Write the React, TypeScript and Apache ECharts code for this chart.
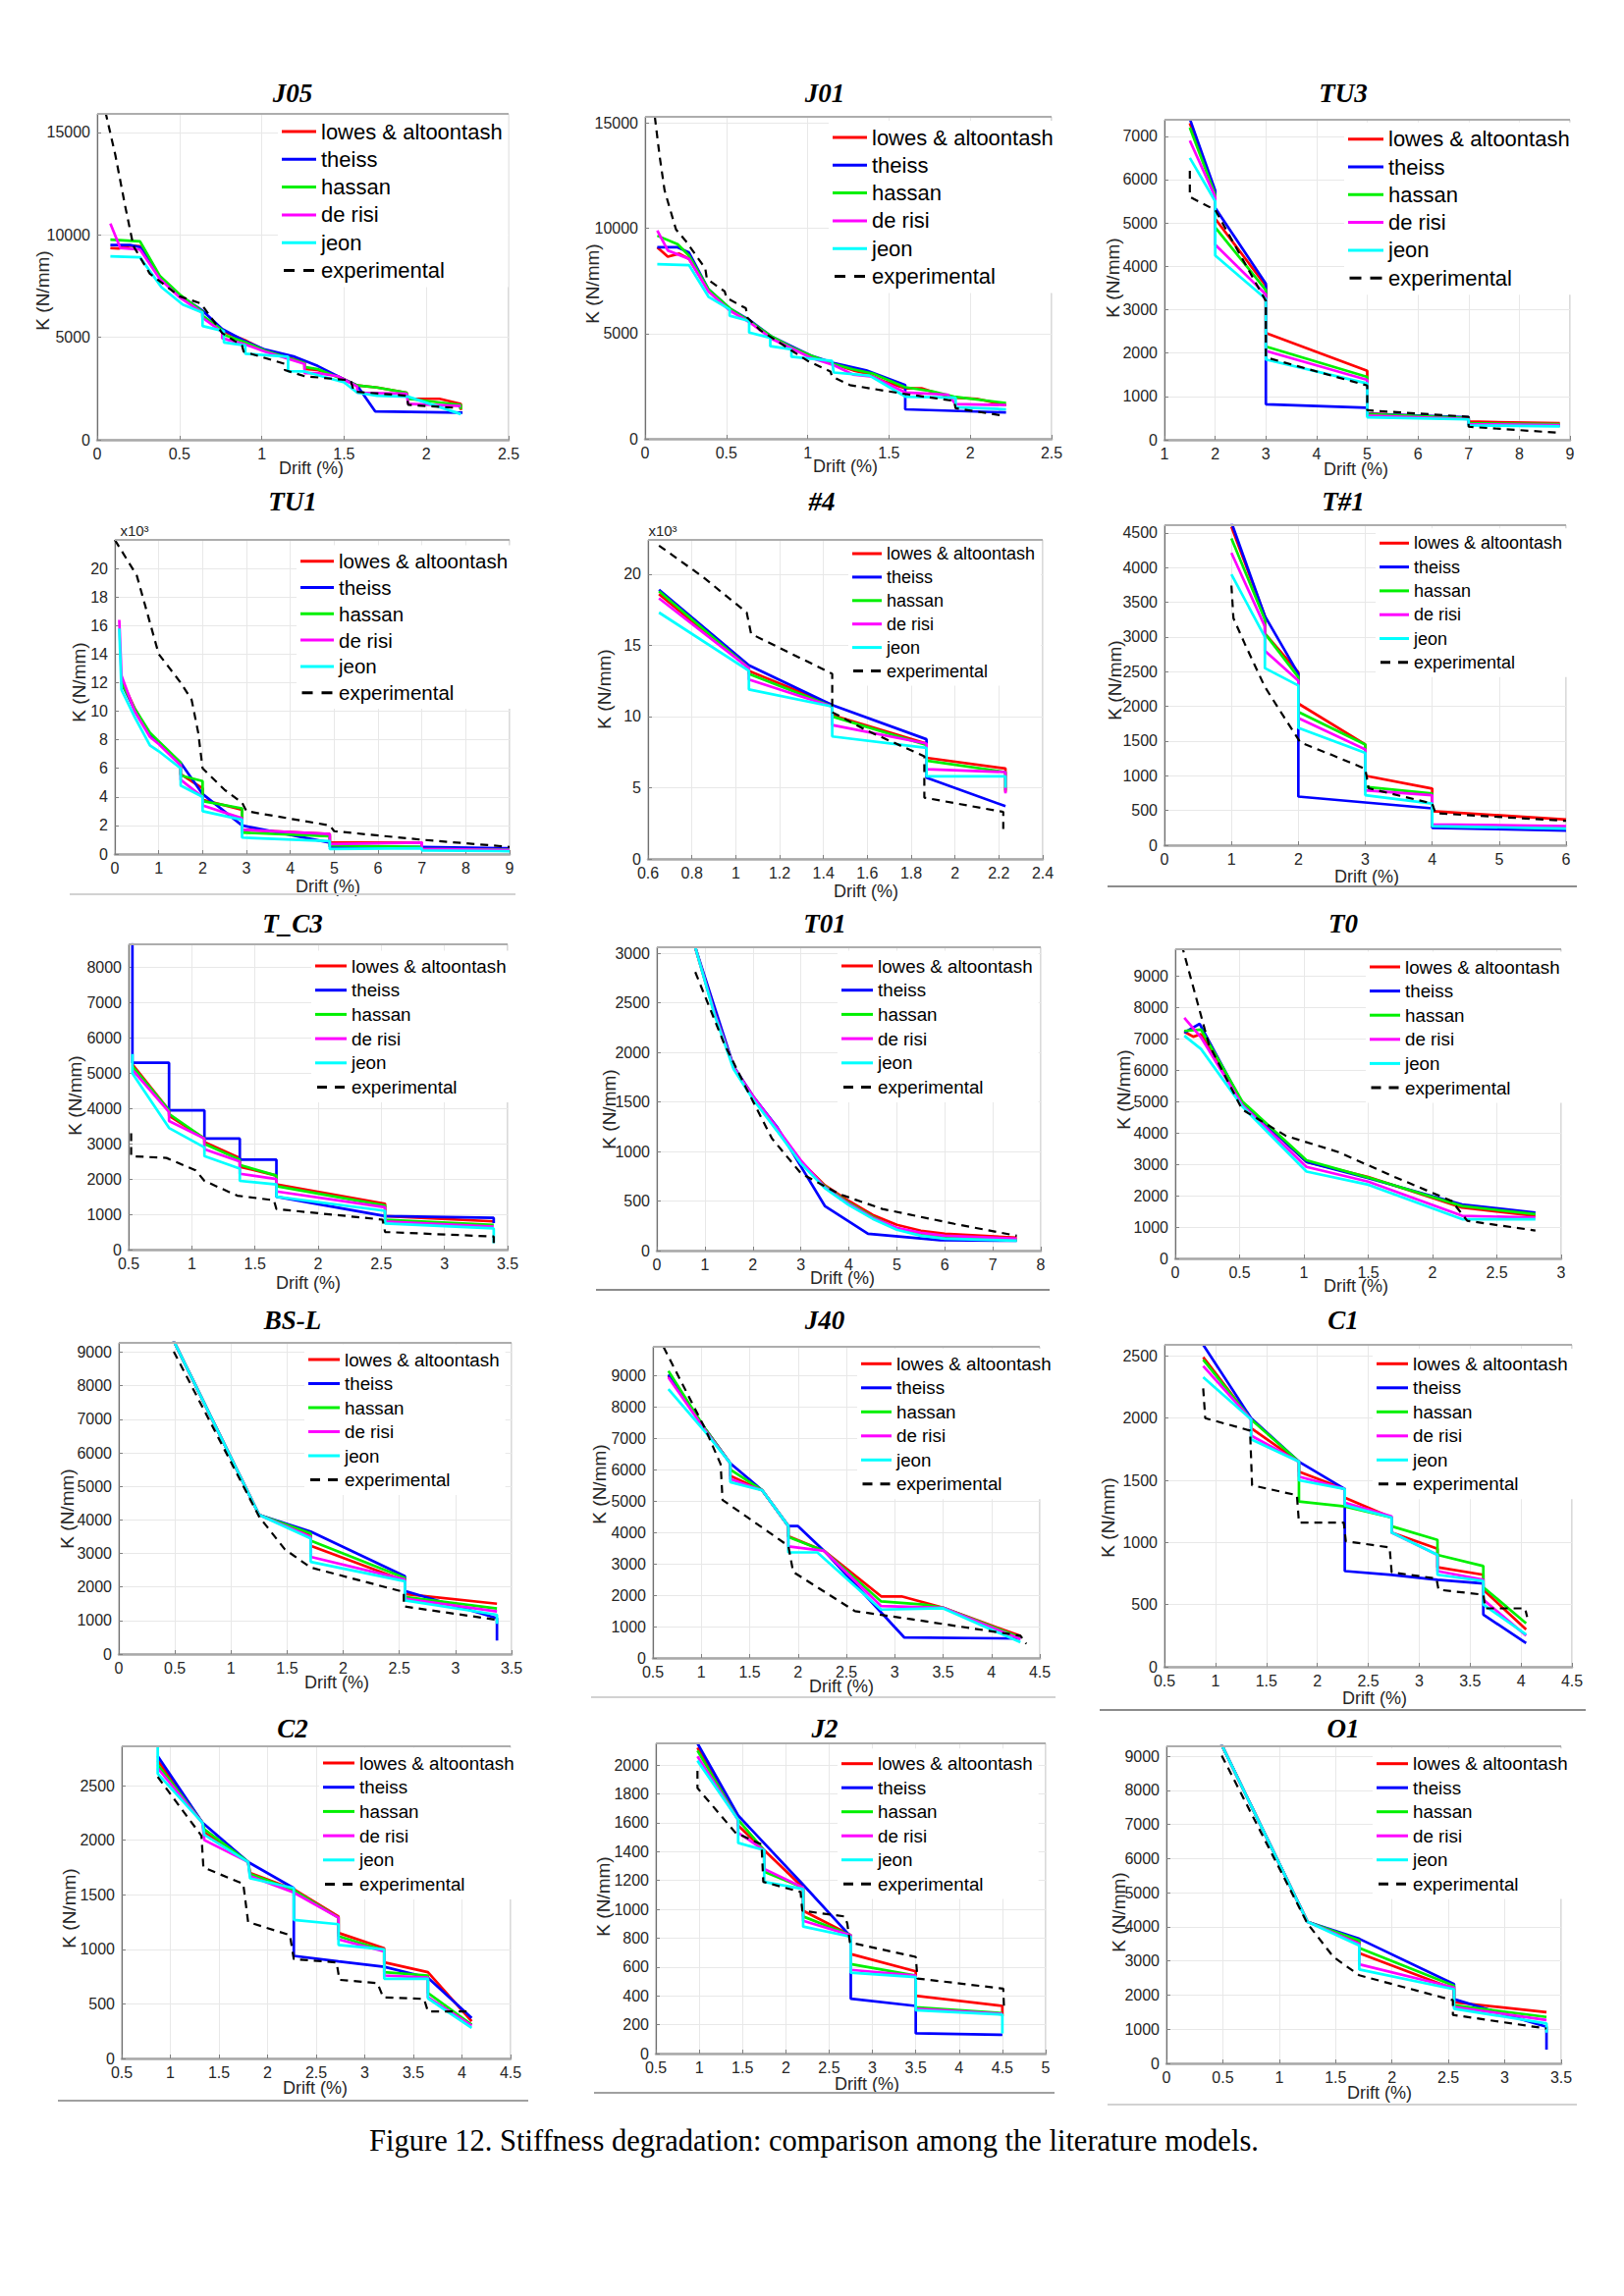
import React, { useEffect, useRef } from "react";
import * as echarts from "echarts";

// ---------- series names & colours ----------
const SERIES_NAMES = ["lowes & altoontash", "theiss", "hassan", "de risi", "jeon", "experimental"];
const SERIES_COLORS = ["#ff0000", "#0000ff", "#00f000", "#ff00ff", "#00ffff", "#000000"];

// ---------- data: [drift %, K] ----------
const j05Lowes = [[0.08,9350],[0.13,9330],[0.2,9470],[0.26,9440],[0.38,7900],[0.5,7000],[0.64,6250],[0.64,6000],[0.76,5300],[0.9,4850],[1.02,4350],[1.14,4050],[1.26,3800],[1.26,3450],[1.34,3400],[1.46,3100],[1.58,2650],[1.7,2550],[1.88,2300],[1.89,2000],[2.08,2000],[2.21,1750],[2.21,1450]];
const j05Theiss = [[0.08,9500],[0.2,9500],[0.26,9400],[0.38,7950],[0.5,7050],[0.64,6300],[0.76,5400],[0.9,4800],[1.02,4400],[1.2,4050],[1.34,3600],[1.5,2950],[1.58,2650],[1.69,1380],[2.22,1320]];
const j05Hassan = [[0.08,9760],[0.26,9680],[0.38,8000],[0.5,7100],[0.64,6250],[0.64,6050],[0.76,5350],[0.76,5150],[0.9,4750],[1.02,4350],[1.14,4050],[1.26,3750],[1.26,3550],[1.34,3450],[1.46,3050],[1.58,2650],[1.7,2550],[1.88,2300],[1.89,2000],[2.21,1700],[2.21,1500]];
const j05DeRisi = [[0.08,10550],[0.14,9360],[0.26,9280],[0.38,7850],[0.5,6950],[0.64,6200],[0.64,5950],[0.76,5250],[0.76,4950],[0.9,4650],[1.02,4300],[1.14,4000],[1.26,3700],[1.26,3250],[1.34,3250],[1.46,3100],[1.58,2600],[1.58,2300],[1.88,2250],[1.89,1750],[2.21,1650]];
const j05Jeon = [[0.08,8950],[0.26,8900],[0.39,7450],[0.52,6600],[0.64,6200],[0.64,5550],[0.77,5300],[0.77,4750],[0.9,4600],[0.9,4200],[1.16,4050],[1.16,3350],[1.26,3330],[1.5,2800],[1.58,2300],[1.7,2150],[1.89,2100],[2.21,1250]];
const j05Exp = [[0.05,16000],[0.11,13900],[0.17,11400],[0.22,9450],[0.32,8100],[0.5,7000],[0.63,6650],[0.76,5200],[0.88,4600],[0.89,4300],[1.14,3700],[1.14,3400],[1.26,3100],[1.54,2900],[1.56,2350],[1.88,2150],[1.89,1700],[2.2,1550]];

const j01Lowes = [[0.075,9100],[0.14,8650],[0.21,8800],[0.27,8550],[0.39,7050],[0.52,6150],[0.64,5600],[0.78,4800],[0.9,4350],[1.02,3900],[1.16,3550],[1.28,3250],[1.36,3100],[1.48,2700],[1.6,2400],[1.7,2400],[1.8,2150],[1.9,1950],[2.04,1900],[2.22,1600]];
const j01Theiss = [[0.075,9100],[0.2,9100],[0.27,8850],[0.39,7100],[0.52,6200],[0.64,5650],[0.78,4850],[0.9,4400],[1.02,3950],[1.16,3600],[1.36,3250],[1.48,2900],[1.6,2550],[1.6,1400],[2.22,1250]];
const j01Hassan = [[0.075,9650],[0.2,9250],[0.27,8700],[0.39,7100],[0.52,6200],[0.64,5600],[0.78,4850],[0.9,4350],[1.02,3950],[1.16,3550],[1.28,3300],[1.4,3100],[1.6,2450],[1.77,2250],[1.9,2000],[2.22,1700]];
const j01DeRisi = [[0.075,9900],[0.14,8950],[0.27,8550],[0.39,7000],[0.52,6100],[0.64,5550],[0.78,4750],[0.9,4300],[1.02,3850],[1.16,3500],[1.28,3050],[1.4,2950],[1.6,2200],[1.86,2100],[1.91,1650],[2.22,1600]];
const j01Jeon = [[0.075,8300],[0.27,8250],[0.39,6750],[0.52,6150],[0.52,5850],[0.64,5600],[0.64,5050],[0.77,4800],[0.77,4400],[0.9,4250],[0.9,3900],[1.15,3700],[1.16,3150],[1.38,3000],[1.58,2100],[1.6,2000],[1.91,1950],[1.91,1500],[2.22,1400]];
const j01Exp = [[0.06,15300],[0.09,13400],[0.12,11800],[0.19,9950],[0.25,9400],[0.37,8100],[0.38,7600],[0.49,7000],[0.5,6700],[0.62,6200],[0.63,5750],[0.71,5150],[0.9,4200],[1.0,3700],[1.14,3200],[1.15,2950],[1.26,2550],[1.58,2150],[1.9,1800],[1.91,1450],[2.2,1100]];

const tu3Lowes = [[1.5,7300],[2,5700],[2,5100],[3,3550],[3,2460],[5,1590],[5,610],[7,490],[7,420],[8.8,380]];
const tu3Theiss = [[1.5,7400],[2,5750],[2,5350],[3,3600],[3,820],[5,740],[5,600],[7,520],[7,350],[8.8,330]];
const tu3Hassan = [[1.5,7200],[2,5650],[2,4900],[3,3450],[3,2150],[5,1450],[5,590],[7,500],[7,380],[8.8,360]];
const tu3DeRisi = [[1.5,6900],[2,5600],[2,4500],[3,3350],[3,2050],[5,1380],[5,560],[7,480],[7,360],[8.8,340]];
const tu3Jeon = [[1.5,6500],[2,5500],[2,4250],[3,3250],[3,1850],[5,1300],[5,520],[7,470],[7,330],[8.8,310]];
const tu3Exp = [[1.5,6200],[1.5,5600],[2,5300],[3,3200],[3,1900],[5,1250],[5,680],[7,530],[7,300],[8.8,160]];

// TU1 and #4 are in thousands of N/mm (x10^3)
const tu1Lowes = [[0.15,12.2],[0.45,10.2],[0.8,8.4],[1,7.8],[1.5,6.3],[1.5,5.6],[2,4.6],[2,3.8],[2.9,3.1],[2.9,1.7],[4.9,1.4],[4.9,0.8],[7,0.8],[7,0.4],[9,0.35]];
const tu1Theiss = [[0.15,12],[0.45,10.1],[0.8,8.4],[1,7.8],[1.5,6.4],[2,4.2],[2.9,2.0],[4.9,0.8],[4.9,0.5],[7,0.5],[9,0.4]];
const tu1Hassan = [[0.15,12],[0.45,10.2],[0.8,8.5],[1,7.9],[1.5,6.4],[1.5,5.5],[2,5.1],[2,3.7],[2.9,3.2],[2.9,1.5],[4.9,1.25],[4.9,0.6],[7,0.5],[7,0.35],[9,0.3]];
const tu1DeRisi = [[0.1,16.4],[0.15,12.5],[0.45,10],[0.8,8.2],[1,7.7],[1.5,6.2],[1.5,5.2],[2,4.0],[2,3.4],[2.9,2.5],[2.9,1.7],[4.9,1.4],[4.9,0.7],[7,0.8],[7,0.35],[9,0.28]];
const tu1Jeon = [[0.1,15.8],[0.15,11.5],[0.45,9.6],[0.8,7.6],[1,7.2],[1.5,6.0],[1.5,4.8],[2,4.0],[2,3.0],[2.9,2.4],[2.9,1.15],[4.9,0.9],[4.9,0.35],[7,0.4],[7,0.25],[9,0.2]];
const tu1Exp = [[0,22],[0.5,19.5],[1,14],[1.5,12],[1.75,10.8],[1.9,8.5],[2,6],[2.5,4.5],[2.9,3.6],[3,3],[4.9,2],[5,1.6],[7,1],[9,0.5]];

const n4Lowes = [[0.65,18.6],[1.06,13.4],[1.06,13.2],[1.44,10.8],[1.44,10.1],[1.87,8.1],[1.87,7.1],[2.23,6.35],[2.23,4.7]];
const n4Theiss = [[0.65,18.9],[1.06,13.6],[1.44,10.8],[1.87,8.4],[1.87,5.7],[2.23,3.7]];
const n4Hassan = [[0.65,18.8],[1.06,13.4],[1.06,13.0],[1.44,10.7],[1.44,10],[1.87,8],[1.87,6.9],[2.23,6.1],[2.23,4.8]];
const n4DeRisi = [[0.65,18.3],[1.06,13.4],[1.06,12.6],[1.44,10.7],[1.44,9.4],[1.87,8.1],[1.87,6.3],[2.23,6.1],[2.23,4.6]];
const n4Jeon = [[0.65,17.3],[1.06,13.2],[1.06,11.9],[1.44,10.7],[1.44,8.6],[1.87,7.8],[1.87,5.8],[2.23,5.8],[2.23,5.0]];
const n4Exp = [[0.65,22],[0.85,19.8],[1.05,17.3],[1.07,15.8],[1.44,13],[1.44,10.3],[1.6,9.0],[1.86,7.2],[1.86,4.3],[2.22,3.3],[2.22,2.1]];

const t1Lowes = [[1,4590],[1.5,3300],[1.5,3050],[2,2490],[2,2040],[3,1450],[3,1000],[4,815],[4,490],[6,370]];
const t1Theiss = [[1,4650],[1.5,3300],[2,2470],[2,700],[4,530],[4,250],[6,210]];
const t1Hassan = [[1,4420],[1.5,3250],[1.5,3050],[2,2420],[2,1920],[3,1450],[3,840],[4,745],[4,275],[6,250]];
const t1DeRisi = [[1,4210],[1.5,3150],[1.5,2800],[2,2370],[2,1830],[3,1380],[3,790],[4,720],[4,300],[6,275]];
const t1Jeon = [[1,3900],[1.5,3000],[1.5,2550],[2,2300],[2,1690],[3,1330],[3,720],[4,600],[4,275],[6,240]];
const t1Exp = [[1,3740],[1.03,3270],[1.2,2900],[1.5,2280],[1.75,1900],[2.03,1480],[2.5,1300],[3,1100],[3.05,820],[4,600],[4.05,460],[6,350]];

const tc3Lowes = [[0.53,5250],[0.82,3950],[0.82,3800],[1.1,3150],[1.1,3050],[1.38,2600],[1.38,2350],[1.67,2100],[1.67,1850],[2.53,1300],[2.53,950],[3.39,800]];
const tc3Theiss = [[0.53,8700],[0.53,5300],[0.82,5300],[0.82,3950],[1.1,3950],[1.1,3150],[1.38,3150],[1.38,2550],[1.67,2550],[1.67,1500],[2.53,950],[3.39,900],[3.39,750]];
const tc3Hassan = [[0.53,5200],[0.82,3950],[0.82,3850],[1.1,3150],[1.1,3000],[1.38,2550],[1.38,2400],[1.67,2100],[1.67,1800],[2.53,1250],[2.53,850],[3.39,700]];
const tc3DeRisi = [[0.53,5100],[0.82,3900],[0.82,3650],[1.1,3150],[1.1,2850],[1.38,2500],[1.38,2150],[1.67,2000],[1.67,1650],[2.53,1200],[2.53,800],[3.39,650]];
const tc3Jeon = [[0.53,5550],[0.53,5000],[0.82,3450],[1.1,2900],[1.1,2650],[1.38,2300],[1.38,1950],[1.67,1850],[1.67,1500],[2.53,1100],[2.53,740],[3.39,600],[3.39,180]];
const tc3Exp = [[0.52,3300],[0.52,2650],[0.8,2600],[1.03,2250],[1.1,1950],[1.36,1530],[1.65,1400],[1.67,1150],[2.51,850],[2.53,500],[3.39,370],[3.39,180]];

const t01Lowes = [[0.8,3060],[1.2,2400],[1.6,1850],[2,1560],[2.5,1230],[3,900],[3.5,660],[4,500],[4.5,360],[5,260],[5.5,200],[6,170],[7.5,130]];
const t01Theiss = [[0.8,3060],[1.6,1860],[2,1560],[2.5,1250],[3,850],[3.5,450],[4.4,170],[5.9,105],[7.5,100]];
const t01Hassan = [[0.8,3060],[1.2,2400],[1.6,1850],[2,1550],[2.5,1220],[3,890],[3.5,650],[4,480],[4.5,340],[5,220],[5.5,160],[6,140],[7.5,110]];
const t01DeRisi = [[0.8,3060],[1.2,2400],[1.6,1850],[2,1560],[2.5,1240],[3,910],[3.5,640],[4,470],[4.5,330],[5,230],[5.5,180],[6,150],[7.5,120]];
const t01Jeon = [[0.8,3060],[1.2,2380],[1.6,1830],[2,1530],[2.5,1210],[3,880],[3.5,630],[4,460],[4.5,320],[5,210],[5.5,150],[6,120],[7.5,100]];
const t01Exp = [[0.8,2810],[1.4,2090],[1.85,1650],[2.4,1130],[3,780],[3.8,570],[4.7,420],[6.2,270],[7.5,150]];

const t0Lowes = [[0.07,7230],[0.14,7070],[0.2,7150],[0.52,4980],[1.02,3080],[1.5,2600],[2.23,1620],[2.8,1360]];
const t0Theiss = [[0.07,7200],[0.19,7480],[0.52,4960],[1.02,3080],[1.5,2560],[2.23,1720],[2.8,1460]];
const t0Hassan = [[0.07,7255],[0.2,7300],[0.52,5010],[1.02,3130],[1.5,2580],[2.23,1670],[2.8,1410]];
const t0DeRisi = [[0.07,7670],[0.2,7050],[0.52,4900],[1.02,2920],[1.5,2450],[2.23,1360],[2.8,1300]];
const t0Jeon = [[0.07,7100],[0.2,6680],[0.52,4850],[1.02,2770],[1.5,2350],[2.23,1250],[2.8,1250]];
const t0Exp = [[0.05,10000],[0.26,6840],[0.52,4750],[0.86,3910],[1.27,3390],[1.67,2660],[2.15,1830],[2.27,1200],[2.8,890]];

const bslLowes = [[0.48,9400],[1.25,4150],[1.71,3550],[1.71,3230],[2.55,2180],[2.55,1790],[3.37,1500]];
const bslTheiss = [[0.48,9400],[1.25,4150],[1.71,3650],[2.55,2320],[2.55,1880],[3.37,1070],[3.37,400]];
const bslHassan = [[0.48,9400],[1.25,4150],[1.71,3600],[1.71,3380],[2.55,2270],[2.55,1700],[3.37,1360]];
const bslDeRisi = [[0.48,9400],[1.25,4150],[1.71,3500],[1.71,2900],[2.55,2220],[2.55,1650],[3.37,1270]];
const bslJeon = [[0.48,9400],[1.25,4150],[1.71,3450],[1.71,2750],[2.55,2170],[2.55,1600],[3.37,1170],[3.37,900]];
const bslExp = [[0.49,9020],[1.25,4100],[1.48,3120],[1.71,2580],[2.54,1850],[2.54,1420],[3.37,1020]];

const j40Lowes = [[0.66,8980],[1.04,7300],[1.3,6200],[1.3,5800],[1.63,5340],[1.9,4200],[1.9,3880],[2.27,3410],[2.86,1960],[3.07,1960],[3.5,1600],[4.3,700]];
const j40Theiss = [[0.66,9030],[1.04,7300],[1.3,6200],[1.63,5340],[1.9,4200],[2.0,4200],[2.27,3410],[3.1,650],[4.3,620]];
const j40Hassan = [[0.66,9140],[1.04,7300],[1.3,6200],[1.3,6000],[1.63,5340],[1.9,4200],[1.9,3850],[2.27,3410],[2.86,1800],[3.3,1700],[3.5,1600],[4.3,650]];
const j40DeRisi = [[0.66,8930],[1.04,7250],[1.3,6200],[1.3,5700],[1.63,5340],[1.9,4200],[1.9,3550],[2.27,3410],[2.86,1650],[3.5,1600],[4.3,600]];
const j40Jeon = [[0.66,8560],[1.04,7200],[1.3,6200],[1.3,5600],[1.63,5340],[1.9,4200],[1.9,3360],[2.2,3360],[2.86,1540],[3.5,1580],[4.3,500]];
const j40Exp = [[0.61,9900],[1.04,7300],[1.2,6170],[1.22,5030],[1.9,3570],[1.95,2740],[2.59,1490],[3.18,1230],[4.3,710],[4.36,450]];

const c1Lowes = [[0.88,2490],[1.35,1990],[1.35,1920],[1.82,1650],[1.82,1570],[2.27,1430],[2.27,1360],[2.73,1200],[2.73,1080],[3.18,950],[3.18,800],[3.63,740],[3.63,620],[4.05,300]];
const c1Theiss = [[0.88,2590],[1.35,2000],[1.82,1650],[2.27,1430],[2.27,770],[2.73,740],[3.18,700],[3.63,670],[3.63,420],[4.05,190]];
const c1Hassan = [[0.88,2470],[1.35,1990],[1.82,1650],[1.82,1330],[2.27,1290],[2.73,1200],[2.73,1130],[3.18,1020],[3.18,900],[3.63,810],[3.63,640],[4.05,350]];
const c1DeRisi = [[0.88,2420],[1.35,1990],[1.35,1860],[1.82,1650],[1.82,1530],[2.27,1430],[2.27,1320],[2.73,1210],[2.73,1080],[3.18,900],[3.18,770],[3.63,700],[3.63,540],[4.05,250]];
const c1Jeon = [[0.88,2330],[1.35,1990],[1.35,1830],[1.82,1650],[1.82,1500],[2.27,1430],[2.27,1300],[2.73,1200],[2.73,1080],[3.18,900],[3.18,740],[3.63,690],[3.63,500],[4.05,260]];
const c1Exp = [[0.88,2240],[0.9,2000],[1.34,1900],[1.36,1460],[1.8,1380],[1.82,1160],[2.26,1160],[2.28,1010],[2.71,960],[2.73,760],[3.17,710],[3.19,620],[3.63,580],[3.65,470],[4.04,470],[4.06,400]];

const c2Lowes = [[0.87,2730],[1.33,2160],[1.35,2070],[1.8,1800],[1.82,1700],[2.27,1550],[2.73,1300],[2.73,1150],[3.2,1010],[3.2,880],[3.65,790],[4.1,340]];
const c2Theiss = [[0.87,2770],[1.33,2160],[1.8,1800],[2.27,1560],[2.27,940],[2.73,890],[3.2,840],[3.65,740],[4.1,370]];
const c2Hassan = [[0.87,2690],[1.33,2160],[1.35,2100],[1.8,1800],[1.82,1690],[2.27,1540],[2.73,1290],[2.73,1120],[3.2,990],[3.2,790],[3.65,760],[3.65,600],[4.1,310]];
const c2DeRisi = [[0.87,2660],[1.33,2160],[1.35,2000],[1.8,1800],[1.82,1670],[2.27,1520],[2.73,1290],[2.73,1090],[3.2,980],[3.2,760],[3.65,740],[3.65,560],[4.1,300]];
const c2Jeon = [[0.87,2860],[0.87,2610],[1.33,2160],[1.35,2050],[1.8,1800],[1.82,1650],[2.27,1560],[2.27,1270],[2.73,1230],[2.73,1040],[3.2,1000],[3.2,730],[3.65,730],[3.65,550],[4.1,280]];
const c2Exp = [[0.87,2580],[1.32,2040],[1.34,1750],[1.75,1600],[1.8,1250],[2.23,1130],[2.27,910],[2.71,880],[2.74,720],[3.13,690],[3.19,560],[3.61,545],[3.65,430],[4.09,430]];

const j2Lowes = [[0.98,2120],[1.45,1620],[1.45,1580],[1.75,1410],[2.2,1150],[2.2,990],[2.75,820],[2.75,690],[3.5,570],[3.5,400],[4.5,330],[4.5,260]];
const j2Theiss = [[0.98,2150],[1.45,1650],[2.2,1170],[2.75,810],[2.75,380],[3.5,330],[3.5,140],[4.5,130]];
const j2Hassan = [[0.98,2100],[1.45,1620],[1.75,1410],[1.75,1260],[2.2,1150],[2.2,950],[2.75,820],[2.75,620],[3.5,540],[3.5,320],[4.5,280]];
const j2DeRisi = [[0.98,2060],[1.45,1620],[1.45,1530],[1.75,1410],[1.75,1280],[2.2,1150],[2.2,920],[2.75,820],[2.75,580],[3.5,540],[3.5,310],[4.5,275]];
const j2Jeon = [[0.98,2030],[1.45,1620],[1.45,1460],[1.75,1410],[1.75,1190],[2.2,1140],[2.2,880],[2.75,810],[2.75,560],[3.5,530],[3.5,300],[4.5,270],[4.5,140]];
const j2Exp = [[0.98,1960],[0.98,1840],[1.42,1530],[1.72,1450],[1.74,1190],[2.17,1120],[2.19,990],[2.68,950],[2.71,900],[2.74,770],[3.5,670],[3.52,520],[4.51,450],[4.52,300]];

// O1 shows the same curves as BS-L
const o1Lowes = bslLowes;
const o1Theiss = bslTheiss;
const o1Hassan = bslHassan;
const o1DeRisi = bslDeRisi;
const o1Jeon = bslJeon;
const o1Exp = bslExp;

const CAPTION = "Figure 12. Stiffness degradation: comparison among the literature models.";

// ---------- layout config (positions in page px) ----------
type Panel = {
  title: string; series: number[][][];
  grid: number[]; xr: number[]; yr: number[];
  lg: { x: number; c: number; fs: number; w: number; sp: number };
  yl: number[]; xl: number[]; t: number[]; x10?: number[];
};

const PANELS: Panel[] = [
  { title: "J05", series: [j05Lowes, j05Theiss, j05Hassan, j05DeRisi, j05Jeon, j05Exp], grid: [99,116,518,448], xr: [0,2.5,0.5], yr: [0,15900,5000], lg: { x: 287, c: 134, fs: 22, w: 35, sp: 28.3 }, yl: [43,296], xl: [317,477], t: [298,97] },
  { title: "J01", series: [j01Lowes, j01Theiss, j01Hassan, j01DeRisi, j01Jeon, j01Exp], grid: [657,119,1071,447], xr: [0,2.5,0.5], yr: [0,15300,5000], lg: { x: 848, c: 140, fs: 22, w: 35, sp: 28.3 }, yl: [603,289], xl: [861,475], t: [840,97] },
  { title: "TU3", series: [tu3Lowes, tu3Theiss, tu3Hassan, tu3DeRisi, tu3Jeon, tu3Exp], grid: [1186,122,1599,448], xr: [1,9,1], yr: [0,7380,1000], lg: { x: 1373, c: 141.7, fs: 22, w: 36, sp: 28.3 }, yl: [1133,283], xl: [1381,478], t: [1368,97] },
  { title: "TU1", series: [tu1Lowes, tu1Theiss, tu1Hassan, tu1DeRisi, tu1Jeon, tu1Exp], grid: [117,550,519,870], xr: [0,9,1], yr: [0,22,2], lg: { x: 306, c: 571.7, fs: 20.5, w: 34, sp: 26.8 }, yl: [80,695], xl: [334,903], t: [298,513], x10: [137,540] },
  { title: "#4", series: [n4Lowes, n4Theiss, n4Hassan, n4DeRisi, n4Jeon, n4Exp], grid: [660,550,1062,875], xr: [0.6,2.4,0.2], yr: [0,22.4,5], lg: { x: 868, c: 564, fs: 18, w: 30, sp: 23.9 }, yl: [615,702], xl: [882,908], t: [837,513], x10: [675,540] },
  { title: "T#1", series: [t1Lowes, t1Theiss, t1Hassan, t1DeRisi, t1Jeon, t1Exp], grid: [1186,535,1595,861], xr: [0,6,1], yr: [0,4610,500], lg: { x: 1405, c: 553.3, fs: 18, w: 30, sp: 24.3 }, yl: [1135,693], xl: [1392,893], t: [1368,513] },
  { title: "T_C3", series: [tc3Lowes, tc3Theiss, tc3Hassan, tc3DeRisi, tc3Jeon, tc3Exp], grid: [131,962,517,1273], xr: [0.5,3.5,0.5], yr: [0,8660,1000], lg: { x: 321, c: 984, fs: 18.8, w: 32, sp: 24.7 }, yl: [76,1116], xl: [314,1307], t: [298,943] },
  { title: "T01", series: [t01Lowes, t01Theiss, t01Hassan, t01DeRisi, t01Jeon, t01Exp], grid: [669,965,1060,1274], xr: [0,8,1], yr: [0,3060,500], lg: { x: 857, c: 984, fs: 18.8, w: 32, sp: 24.7 }, yl: [620,1130], xl: [858,1302], t: [840,943] },
  { title: "T0", series: [t0Lowes, t0Theiss, t0Hassan, t0DeRisi, t0Jeon, t0Exp], grid: [1197,967,1590,1282], xr: [0,3,0.5], yr: [0,9860,1000], lg: { x: 1395, c: 985, fs: 18.8, w: 31, sp: 24.6 }, yl: [1144,1110], xl: [1381,1310], t: [1368,943] },
  { title: "BS-L", series: [bslLowes, bslTheiss, bslHassan, bslDeRisi, bslJeon, bslExp], grid: [121,1368,521,1685], xr: [0,3.5,0.5], yr: [0,9280,1000], lg: { x: 314, c: 1385, fs: 18.8, w: 32, sp: 24.5 }, yl: [68,1537], xl: [343,1714], t: [298,1347] },
  { title: "J40", series: [j40Lowes, j40Theiss, j40Hassan, j40DeRisi, j40Jeon, j40Exp], grid: [665,1372,1059,1689], xr: [0.5,4.5,0.5], yr: [0,9910,1000], lg: { x: 877, c: 1389.3, fs: 18.8, w: 31, sp: 24.5 }, yl: [610,1512], xl: [857,1718], t: [840,1347] },
  { title: "C1", series: [c1Lowes, c1Theiss, c1Hassan, c1DeRisi, c1Jeon, c1Exp], grid: [1186,1370,1601,1698], xr: [0.5,4.5,0.5], yr: [0,2590,500], lg: { x: 1402, c: 1389.3, fs: 18.8, w: 32, sp: 24.5 }, yl: [1128,1546], xl: [1400,1730], t: [1368,1347] },
  { title: "C2", series: [c2Lowes, c2Theiss, c2Hassan, c2DeRisi, c2Jeon, c2Exp], grid: [124,1779,520,2097], xr: [0.5,4.5,0.5], yr: [0,2860,500], lg: { x: 329, c: 1796, fs: 18.8, w: 32, sp: 24.7 }, yl: [70,1944], xl: [321,2127], t: [298,1763] },
  { title: "J2", series: [j2Lowes, j2Theiss, j2Hassan, j2DeRisi, j2Jeon, j2Exp], grid: [668,1776,1065,2092], xr: [0.5,5,0.5], yr: [0,2150,200], lg: { x: 857, c: 1796.7, fs: 18.8, w: 32, sp: 24.5 }, yl: [614,1932], xl: [883,2123], t: [840,1763] },
  { title: "O1", series: [o1Lowes, o1Theiss, o1Hassan, o1DeRisi, o1Jeon, o1Exp], grid: [1188,1779,1590,2102], xr: [0,3.5,0.5], yr: [0,9290,1000], lg: { x: 1402, c: 1796.7, fs: 18.8, w: 32, sp: 24.5 }, yl: [1139,1948], xl: [1405,2132], t: [1368,1763] },
];

// separator rules under some sub-figures: [x1, x2, y, colour]
const RULES: [number, number, number, string][] = [
  [71,525,911,"#d2d2d2"],[1128,1606,903,"#8c8c8c"],[607,1069,1314,"#8c8c8c"],[602,1075,1729,"#d2d2d2"],
  [1120,1615,1742,"#8c8c8c"],[59,538,2140,"#a0a0a0"],[605,1074,2132,"#a0a0a0"],[1128,1606,2144,"#d2d2d2"],
];

const SANS = "Liberation Sans, Arial, Helvetica, sans-serif";
const SERIF = "Liberation Serif, Times New Roman, serif";

const fmt = (v: number) => String(Math.round(v * 1000) / 1000);

function buildOption() {
  const grid: any[] = [], xAxis: any[] = [], yAxis: any[] = [], series: any[] = [], legend: any[] = [], title: any[] = [], graphic: any[] = [];
  PANELS.forEach((p, i) => {
    const [l, t, r, b] = p.grid;
    grid.push({ left: l, top: t, width: r - l, height: b - t, show: true, borderColor: "#b4b4b4", borderWidth: 1, backgroundColor: "transparent", containLabel: false, outerBoundsMode: "none" });
    const common = {
      gridIndex: i, type: "value",
      axisTick: { show: true, inside: true, length: 4, lineStyle: { color: "#808080" } },
      axisLabel: { color: "#262626", fontSize: 16, fontFamily: SANS, margin: 7, formatter: fmt },
      splitLine: { show: true, lineStyle: { color: "#e8e8e8", width: 1 } },
    };
    xAxis.push({ ...common, min: p.xr[0], max: p.xr[1], interval: p.xr[2], axisLine: { show: true, onZero: false, lineStyle: { color: "#a9a9a9", width: 2.5 } }, axisLabel: { ...common.axisLabel, margin: 6 } });
    yAxis.push({ ...common, min: p.yr[0], max: p.yr[1], interval: p.yr[2], axisLine: { show: true, onZero: false, lineStyle: { color: "#707070", width: 1.2 } }, axisLabel: { ...common.axisLabel, showMaxLabel: false } });
    p.series.forEach((d, j) => {
      series.push({
        type: "line", name: SERIES_NAMES[j], xAxisIndex: i, yAxisIndex: i, data: d,
        symbol: "none", showSymbol: false, silent: true, clip: true, z: 2 + j,
        color: SERIES_COLORS[j], itemStyle: { color: SERIES_COLORS[j] },
        lineStyle: j === 5 ? { color: "#000", width: 2.2, type: [8, 6] } : { color: SERIES_COLORS[j], width: 2.7 },
      });
    });
    // thicker top frame line (MATLAB box)
    graphic.push({ type: "line", shape: { x1: l, y1: t, x2: r, y2: t }, style: { stroke: "#adadad", lineWidth: 2.2 }, silent: true, z: 10 });
    const { x, c, fs, w, sp } = p.lg;
    const lh = fs + 2;
    const solid = `path://M0,0H${w}V3H0Z`;
    const d = Math.round(w * 0.32);
    const g = Math.round(w * 0.26);
    const dashed = `path://M0,0H${d}V3H0ZM${d + g},0H${2 * d + g}V3H${d + g}Z`;
    legend.push({
      orient: "vertical", left: x - 4, top: c - lh / 2 - 5, itemWidth: w, itemHeight: 3, itemGap: sp - lh,
      padding: [5, 6, 5, 4], backgroundColor: "#ffffff", selectedMode: false,
      itemStyle: { borderWidth: 0 },
      textStyle: { fontSize: fs, fontFamily: SANS, color: "#000", lineHeight: lh },
      data: SERIES_NAMES.map((n, j) => ({ name: n, icon: j === 5 ? dashed : solid })),
    });
    title.push({
      text: p.title, left: p.t[0], top: p.t[1] - 16, textAlign: "center", padding: 0,
      textStyle: { fontFamily: SERIF, fontStyle: "italic", fontWeight: "bold", fontSize: 27, color: "#000" },
    });
    graphic.push({
      type: "text", x: p.yl[0], y: p.yl[1], rotation: Math.PI / 2,
      style: { text: "K (N/mm)", fontSize: 19, fontFamily: SANS, fill: "#262626", align: "center", verticalAlign: "middle", textAlign: "center", textVerticalAlign: "middle" },
    });
    graphic.push({
      type: "text", x: p.xl[0], y: p.xl[1],
      style: { text: "Drift (%)", fontSize: 18, fontFamily: SANS, fill: "#262626", align: "center", verticalAlign: "middle", textAlign: "center", textVerticalAlign: "middle" },
    });
    if (p.x10) {
      graphic.push({
        type: "text", x: p.x10[0], y: p.x10[1],
        style: { text: "x10³", fontSize: 15, fontFamily: SANS, fill: "#262626", align: "center", verticalAlign: "middle", textAlign: "center", textVerticalAlign: "middle" },
      });
    }
  });
  RULES.forEach(([x1, x2, y, col]) => {
    graphic.push({ type: "line", shape: { x1, y1: y, x2, y2: y }, style: { stroke: col, lineWidth: 2 }, silent: true });
  });
  title.push({
    text: CAPTION, left: 829, top: 2165, textAlign: "center", padding: 0,
    textStyle: { fontFamily: SERIF, fontWeight: "normal", fontSize: 30.5, color: "#000" },
  });
  return { animation: false, backgroundColor: "#ffffff", grid, xAxis, yAxis, series, legend, title, graphic, tooltip: { show: false } };
}

export default function App() {
  const ref = useRef<HTMLDivElement>(null);
  useEffect(() => {
    if (!ref.current) return;
    const chart = echarts.init(ref.current, null, { renderer: "svg", width: 1654, height: 2339 });
    chart.setOption(buildOption() as any);
    return () => chart.dispose();
  }, []);
  return <div ref={ref} style={{ position: "absolute", left: 0, top: 0, width: 1654, height: 2339, background: "#fff" }} />;
}
